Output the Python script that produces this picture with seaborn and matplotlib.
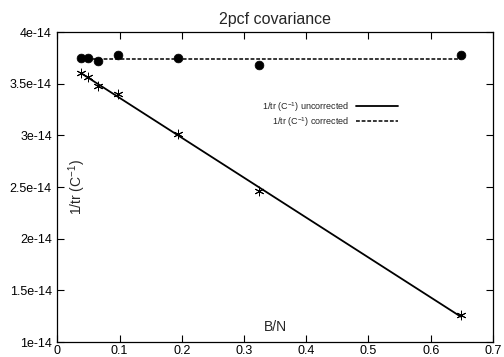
import numpy as np
import pandas as pd
import matplotlib
matplotlib.use("Agg")
import matplotlib.pyplot as plt
import seaborn as sns

# ---- data ----
b_over_n = [0.038, 0.049, 0.065, 0.097, 0.194, 0.324, 0.648]
inv_tr_uncorrected = [3.60e-14, 3.57e-14, 3.48e-14, 3.40e-14, 3.01e-14, 2.46e-14, 1.26e-14]
inv_tr_corrected = [3.75e-14, 3.75e-14, 3.72e-14, 3.78e-14, 3.75e-14, 3.68e-14, 3.78e-14]
x_ticks = [0, 0.1, 0.2, 0.3, 0.4, 0.5, 0.6, 0.7]
x_tick_labels = ["0", "0.1", "0.2", "0.3", "0.4", "0.5", "0.6", "0.7"]
y_ticks = [1e-14, 1.5e-14, 2e-14, 2.5e-14, 3e-14, 3.5e-14, 4e-14]
y_tick_labels = ["1e-14", "1.5e-14", "2e-14", "2.5e-14", "3e-14", "3.5e-14", "4e-14"]
label_uncorr = "1/tr (C$^{-1}$) uncorrected"
label_corr = "1/tr (C$^{-1}$) corrected"

sns.set_theme(style="ticks")
plt.rcParams["font.family"] = ["Liberation Sans", "DejaVu Sans"]
plt.rcParams["mathtext.fontset"] = "custom"
plt.rcParams["mathtext.rm"] = "Liberation Sans"
plt.rcParams["mathtext.it"] = "Liberation Sans"

df = pd.DataFrame({"x": b_over_n, "unc": inv_tr_uncorrected, "cor": inv_tr_corrected})
# fitted lines from the data
coef = np.polyfit(df["x"], df["unc"], 1)
df["unc_fit"] = np.polyval(coef, df["x"])
df["cor_fit"] = df["cor"].mean()

fig = plt.figure(figsize=(5.04, 3.57), dpi=100)
ax = fig.add_axes([0.114, 0.042, 0.864, 0.868])

sns.lineplot(data=df, x="x", y="unc_fit", ax=ax, color="black", lw=1.3,
             label=label_uncorr)
sns.lineplot(data=df, x="x", y="cor_fit", ax=ax, color="black", lw=1.1,
             linestyle=(0, (2.5, 1.2)), label=label_corr)
sns.scatterplot(data=df, x="x", y="unc", ax=ax, marker=(6, 2, 0), s=40,
                color="black", linewidth=0.7, zorder=5)
sns.scatterplot(data=df, x="x", y="cor", ax=ax, marker="o", s=40,
                color="black", edgecolor="black", zorder=5)

ax.set_xlim(0, 0.7)
ax.set_ylim(1e-14, 4e-14)
ax.set_xticks(x_ticks)
ax.set_xticklabels(x_tick_labels)
ax.set_yticks(y_ticks)
ax.set_yticklabels(y_tick_labels)
ax.tick_params(direction="in", length=5, width=0.8, labelsize=9, colors="black",
               top=True, right=True, pad=4)
ax.tick_params(axis="x", pad=2)
for s in ax.spines.values():
    s.set_color("black")
    s.set_linewidth(0.9)
    s.set_visible(True)

ax.set_title("2pcf covariance", fontsize=11.5, pad=6)
ax.set_xlabel("B/N", fontsize=10)
ax.set_ylabel("1/tr (C$^{-1}$)", fontsize=10)
ax.xaxis.set_label_coords(0.5, 0.048)
ax.yaxis.set_label_coords(0.045, 0.5)
ax.xaxis.label.set_va("center")
ax.yaxis.label.set_va("center")

handles, labels = ax.get_legend_handles_labels()
leg = ax.legend(handles[:2], labels[:2], loc="center right",
                bbox_to_anchor=(0.782, 0.735), frameon=False, fontsize=6.5,
                markerfirst=False, borderpad=0, borderaxespad=0,
                handlelength=4.6, handletextpad=0.8, labelspacing=0.15)

fig.savefig("out.png", dpi=100)
